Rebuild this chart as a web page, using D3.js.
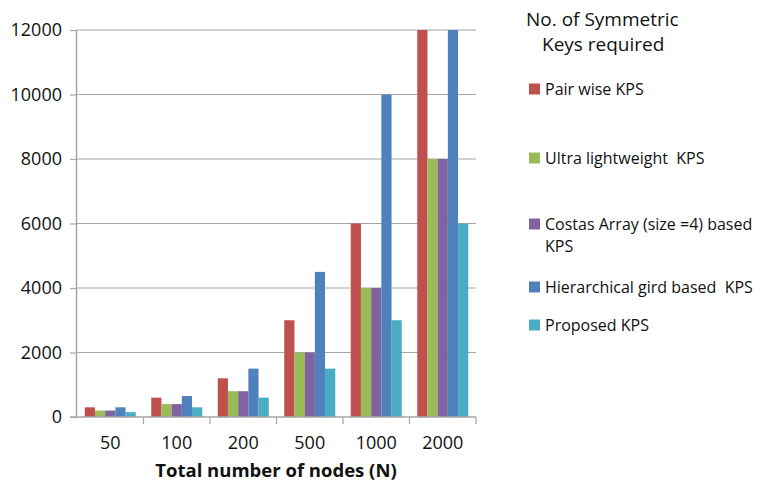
<!DOCTYPE html>
<html><head><meta charset="utf-8">
<script src="https://cdn.jsdelivr.net/npm/d3@7"></script>
<style>body{margin:0;background:#fff;} svg{display:block;}</style>
</head><body>
<svg id="c" width="768" height="482"></svg>
<script>
const categories = ["50","100","200","500","1000","2000"];
const seriesNames = ["Pair wise KPS","Ultra lightweight  KPS","Costas Array (size =4) based KPS","Hierarchical gird based  KPS","Proposed KPS"];
const pairWise = [300,600,1200,3000,6000,12000];
const ultraLight = [200,400,800,2000,4000,8000];
const costas = [200,400,800,2000,4000,8000];
const hierarchical = [300,650,1500,4500,10000,12000];
const proposed = [150,300,600,1500,3000,6000];
const yTicks = [0,2000,4000,6000,8000,10000,12000];
const colors = ["#C0504D","#9BBB59","#8064A2","#4F81BD","#4BACC6"];
const series = [pairWise, ultraLight, costas, hierarchical, proposed];

const svg = d3.select("#c");
const font = "Open Sans, Lato, sans-serif";
const L=77, R=476, T=30, B=417;
const x = d3.scaleBand().domain(categories).range([L,R]).paddingInner(0).paddingOuter(0);
const x1 = d3.scaleBand().domain(d3.range(5)).range([0, 51]);
const y = d3.scaleLinear().domain([0,12000]).range([B,T]);

// gridlines
svg.append("g").selectAll("line").data(yTicks.filter(d=>d>0)).join("line")
  .attr("x1",L).attr("x2",R).attr("y1",d=>y(d)).attr("y2",d=>y(d))
  .attr("stroke","#a6a6a6").attr("stroke-width",1.2);

// bars
const off = (x.bandwidth()-51)/2;
series.forEach((s,i)=>{
  svg.append("g").selectAll("rect").data(s).join("rect")
    .attr("x",(d,j)=>x(categories[j])+off+x1(i))
    .attr("width",x1.bandwidth())
    .attr("y",d=>y(d)).attr("height",d=>B-y(d))
    .attr("fill",colors[i]);
});

// y axis
const ya = svg.append("g").attr("transform",`translate(${L},0)`)
  .call(d3.axisLeft(y).tickValues(yTicks).tickSize(7).tickPadding(8).tickFormat(d3.format("d")));
ya.select(".domain").attr("stroke","#a6a6a6").attr("stroke-width",1.5).attr("d",`M-0.5,${T}V${B}`);
ya.selectAll(".tick line").attr("stroke","#a6a6a6").attr("stroke-width",1.2);
ya.selectAll("text").attr("font-family",font).attr("font-size",18).attr("fill","#111");

// x axis
const xa = svg.append("g").attr("transform",`translate(0,${B})`)
  .call(d3.axisBottom(x).tickSize(0).tickPadding(0));
xa.select(".domain").attr("stroke","#a6a6a6").attr("stroke-width",1.5).attr("d",`M${L-7},0H${R}`);
xa.selectAll("text").attr("font-family",font).attr("font-size",18).attr("fill","#111").attr("dy",null).attr("y",32);
xa.selectAll(".bound").data(categories.map((c,i)=>i)).join("line").attr("class","bound")
  .attr("x1",i=>x(categories[i])+x.bandwidth()).attr("x2",i=>x(categories[i])+x.bandwidth())
  .attr("y1",0).attr("y2",7).attr("stroke","#a6a6a6").attr("stroke-width",1.2);

svg.append("text").attr("x",276).attr("y",477).attr("text-anchor","middle")
  .attr("font-family",font).attr("font-size",18.5).attr("font-weight","bold").attr("fill","#111")
  .text("Total number of nodes (N)");

// legend
const lg = svg.append("g");
lg.append("text").attr("x",526).attr("y",26).attr("font-family",font).attr("font-size",19).attr("fill","#111").text("No. of Symmetric");
lg.append("text").attr("x",542).attr("y",51).attr("font-family",font).attr("font-size",19).attr("fill","#111").text("Keys required");
const ly = [89,158,224,287,325];
seriesNames.forEach((n,i)=>{
  lg.append("rect").attr("x",529).attr("y",ly[i]-5.5).attr("width",11).attr("height",11).attr("fill",colors[i]);
  if(i===2){
    lg.append("text").attr("x",545).attr("y",ly[i]+6).attr("font-family",font).attr("font-size",16).attr("fill","#111").text("Costas Array (size =4) based");
    lg.append("text").attr("x",545).attr("y",ly[i]+28).attr("font-family",font).attr("font-size",16).attr("fill","#111").text("KPS");
  } else {
    lg.append("text").attr("x",545).attr("y",ly[i]+6).attr("font-family",font).attr("font-size",16).attr("fill","#111").attr("xml:space","preserve").style("white-space","pre").text(n);
  }
});
</script>
</body></html>
